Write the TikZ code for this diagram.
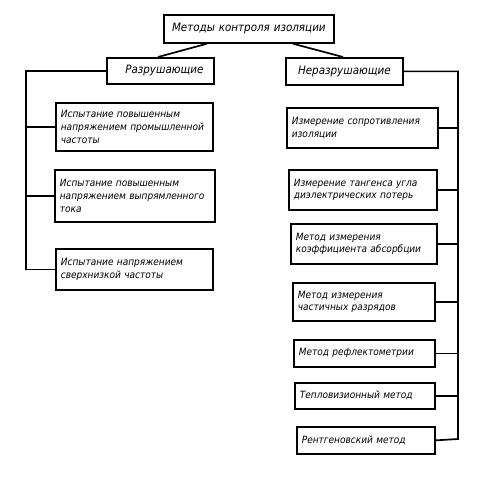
\documentclass[tikz,border=0pt]{standalone}
\usepackage{fontspec}
\newfontfamily\gost{DejaVu Sans}[FakeStretch=0.9,WordSpace=1.3]
\tikzset{
  box/.style={draw, line width=1.7pt, anchor=north west, inner xsep=5pt, inner ysep=1pt,
    font=\gost\itshape\fontsize{10}{12.8}\selectfont},
  lbox/.style={box, align=left},
  cbox/.style={box, align=center},
  conn/.style={line width=1.7pt}
}
\begin{document}
\begin{tikzpicture}[x=1pt,y=-1pt]
\useasboundingbox (0,0) rectangle (481,477);
% header boxes
\node[cbox, text width=160pt, minimum height=28pt, font=\gost\itshape\fontsize{11.5}{14}\selectfont] (top) at (163,14) {\mbox{Методы контроля изоляции}};
\node[cbox, text width=97pt, minimum height=26pt, font=\gost\itshape\fontsize{11.5}{14}\selectfont] (razr) at (106,57) {\mbox{\hspace*{8pt}Разрушающие}};
\node[cbox, text width=107pt, minimum height=27pt, font=\gost\itshape\fontsize{11.5}{14}\selectfont] (neraz) at (285,57) {\raisebox{2pt}{Неразрушающие}};
% left boxes
\node[lbox, text width=147pt, minimum height=48pt] (L1) at (55,102) {\mbox{Испытание повышенным}\\\mbox{напряжением промышленной}\\\mbox{частоты}};
\node[lbox, text width=150pt, minimum height=52pt] (L2) at (54,169) {\mbox{Испытание повышенным}\\\mbox{напряжением выпрямленного}\\\mbox{тока}};
\node[lbox, text width=147pt, minimum height=41pt] (L3) at (55,248) {\mbox{Испытание напряжением}\\\mbox{сверхнизкой частоты}};
% right boxes
\node[lbox, text width=141pt, minimum height=40pt] (R1) at (286,107) {\mbox{Измерение сопротивления}\\\mbox{изоляции}};
\node[lbox, text width=138pt, minimum height=40pt] (R2) at (288,169) {\mbox{Измерение тангенса угла}\\\mbox{диэлектрических потерь}};
\node[lbox, text width=136pt, minimum height=40pt] (R3) at (290,223) {\mbox{Метод измерения}\\\mbox{коэффициента абсорбции}};
\node[lbox, text width=132pt, minimum height=38pt] (R4) at (292,282) {\mbox{Метод измерения}\\\mbox{частичных разрядов}};
\node[lbox, text width=131pt, minimum height=27pt] (R5) at (293,339) {\mbox{Метод рефлектометрии}};
\node[lbox, text width=130pt, minimum height=26pt] (R6) at (294,382) {\mbox{Тепловизионный метод}};
\node[lbox, text width=128pt, minimum height=27pt] (R7) at (296,426) {\mbox{Рентгеновский метод}};
% connectors
\coordinate (lbus) at (26,270);
\coordinate (rbus) at (458,439);
\draw[conn] ([xshift=44pt]top.south west) -- ([xshift=52pt]razr.north west);
\draw[conn] ([xshift=130pt]top.south west) -- ([xshift=58pt]neraz.north west);
\draw[conn] (razr.west) -| (lbus) -- (L3.west -| lbus) -- (L3.west);
\draw[conn] (L1.west) -- (L1.west -| lbus);
\draw[conn] (L2.west) -- (L2.west -| lbus);
\draw[conn] (neraz.east) -| (rbus) -- (R7.east);
\foreach \n in {R1,R2,R3,R4,R5,R6}{
  \draw[conn] (\n.east) -- (\n.east -| rbus);
}
\end{tikzpicture}
\end{document}
